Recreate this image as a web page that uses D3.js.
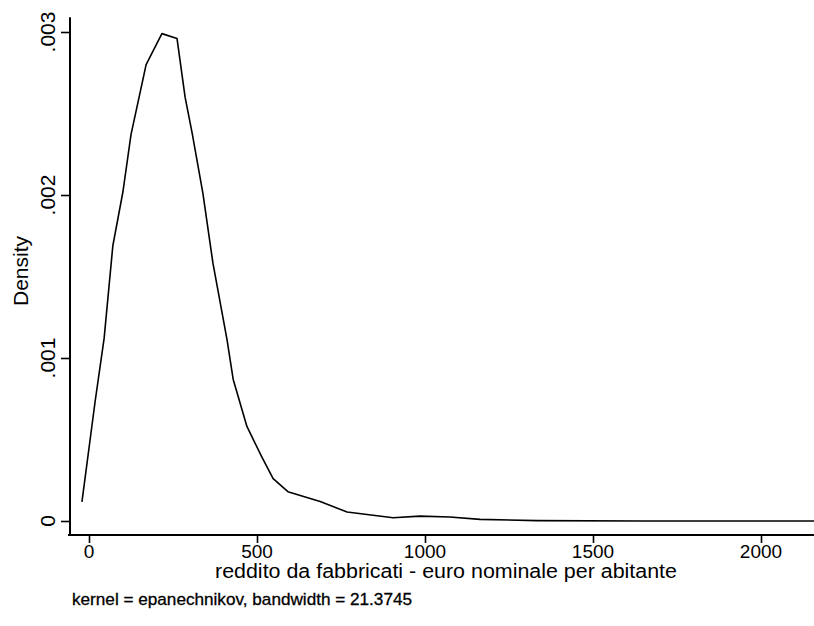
<!DOCTYPE html>
<html>
<head>
<meta charset="utf-8">
<script src="https://cdn.jsdelivr.net/npm/d3@7"></script>
<style>
  html, body { margin: 0; padding: 0; background: #fff; }
  svg { display: block; }
  text { font-family: "Liberation Sans", Arial, Helvetica, sans-serif; fill: #000; }
</style>
</head>
<body>
<svg id="chart" width="814" height="626"></svg>
<script>
// Data (kernel density estimate)
const income = [-21, 18, 45, 71, 101, 125, 170, 217, 262, 286, 307, 339, 369, 411, 429, 470, 515, 548, 592, 688, 768, 905, 985, 1074, 1164, 1333, 1640, 1997, 2158];
const density = [0.000117, 0.00073, 0.00112, 0.00169, 0.00202, 0.00237, 0.00280, 0.00299, 0.00296, 0.00260, 0.00238, 0.00201, 0.00158, 0.00111, 0.00087, 0.00058, 0.00039, 0.00026, 0.00018, 0.00012, 0.000055, 0.00002, 0.00003, 0.000025, 0.00001, 0.000002, 0, 0, 0];
const xTicks = [0, 500, 1000, 1500, 2000];
const xTickLabels = ["0", "500", "1000", "1500", "2000"];
const yTicks = [0, 0.001, 0.002, 0.003];
const yTickLabels = ["0", ".001", ".002", ".003"];
const yTitle = "Density";
const xTitle = "reddito da fabbricati - euro nominale per abitante";
const note = "kernel = epanechnikov, bandwidth = 21.3745";

const svg = d3.select("#chart");

const x = d3.scaleLinear().domain([0, 2000]).range([89, 761]);
const y = d3.scaleLinear().domain([0, 0.003]).range([521, 32]);

const axisX = 70;   // position of the y axis line
const axisY = 535;  // position of the x axis line

// Y axis
const gy = svg.append("g").attr("transform", `translate(${axisX},0)`);
gy.call(d3.axisLeft(y).tickValues(yTicks).tickFormat("").tickSize(9).tickSizeOuter(0));
gy.select(".domain").remove();
gy.selectAll(".tick line").attr("stroke", "#000").attr("stroke-width", 1.6);
gy.append("line").attr("x1", 0).attr("x2", 0)
  .attr("y1", y(0.00309)).attr("y2", axisY + 1)
  .attr("stroke", "#000").attr("stroke-width", 2);
gy.selectAll(".ylab").data(yTicks).enter().append("text")
  .attr("class", "ylab")
  .attr("transform", d => `translate(-15,${y(d)}) rotate(-90)`)
  .attr("text-anchor", "middle")
  .attr("font-size", 21)
  .text((d, i) => yTickLabels[i]);

// X axis
const gx = svg.append("g").attr("transform", `translate(0,${axisY})`);
gx.call(d3.axisBottom(x).tickValues(xTicks).tickFormat("").tickSize(8).tickSizeOuter(0));
gx.select(".domain").remove();
gx.selectAll(".tick line").attr("stroke", "#000").attr("stroke-width", 1.6);
gx.append("line").attr("x1", axisX - 2).attr("x2", 814)
  .attr("y1", 0).attr("y2", 0)
  .attr("stroke", "#000").attr("stroke-width", 2);
gx.selectAll(".xlab").data(xTicks).enter().append("text")
  .attr("class", "xlab")
  .attr("x", d => x(d)).attr("y", 23)
  .attr("text-anchor", "middle")
  .attr("font-size", 19)
  .text((d, i) => xTickLabels[i]);

// Titles
svg.append("text")
  .attr("transform", `translate(28,271) rotate(-90)`)
  .attr("text-anchor", "middle")
  .attr("font-size", 21)
  .text(yTitle);

svg.append("text")
  .attr("x", 446).attr("y", 578)
  .attr("text-anchor", "middle")
  .attr("font-size", 20)
  .attr("textLength", 462).attr("lengthAdjust", "spacingAndGlyphs")
  .text(xTitle);

svg.append("text")
  .attr("x", 72).attr("y", 605)
  .attr("font-size", 17)
  .attr("stroke", "#000").attr("stroke-width", 0.3)
  .attr("textLength", 340).attr("lengthAdjust", "spacingAndGlyphs")
  .text(note);

// Density curve
const pts = income.map((v, i) => [v, density[i]]);
const line = d3.line().x(d => x(d[0])).y(d => y(d[1]));
svg.append("path")
  .datum(pts)
  .attr("d", line)
  .attr("fill", "none")
  .attr("stroke", "#000")
  .attr("stroke-width", 1.6)
  .attr("stroke-linejoin", "round");
</script>
</body>
</html>
